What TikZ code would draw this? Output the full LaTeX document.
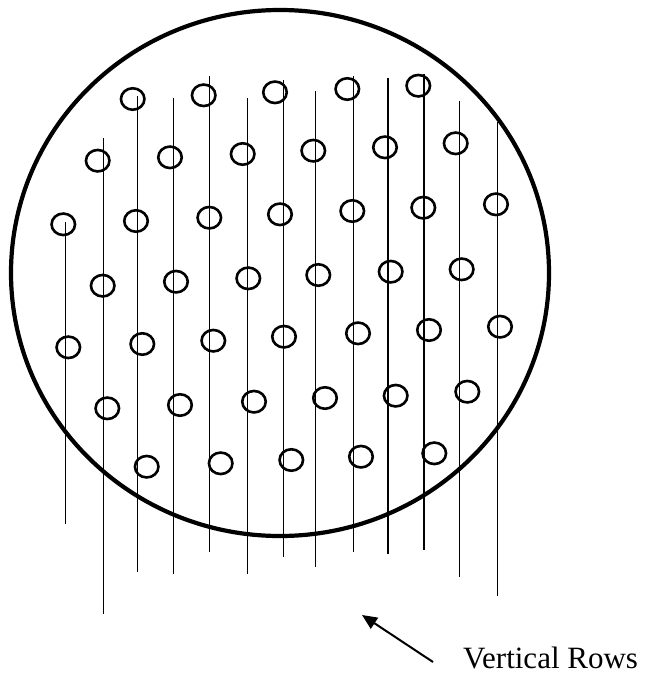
\documentclass[tikz,border=0pt]{standalone}
\usepackage{fontspec}
\setmainfont{Liberation Serif}
\usetikzlibrary{shapes.geometric,arrows.meta}

\begin{document}
\begin{tikzpicture}[x=1pt, y=-1pt,
    hole/.style={ellipse, draw, line width=2.6pt, minimum width=23.5pt, minimum height=21.5pt, inner sep=0pt},
    rim/.style={ellipse, draw, line width=4.2pt, minimum width=538pt, minimum height=526pt, inner sep=0pt},
    row/.style={line width=1.4pt},
    pointer/.style={line width=2pt, -{Triangle[length=15pt, width=13pt]}}]
    \useasboundingbox (0,0) rectangle (646,675);
    % wafer outline
    \node[rim] (rim) at (280,273) {};
    % vertical rows
    \foreach \x/\t/\b in {65.7/222/524, 103.7/138/614, 137.7/96/572, 173.7/98/574,
        209.7/76/552, 247.7/98/574, 283.7/80/557, 315.7/91/567, 353.7/76/552,
        388/78/554, 424/74/550, 459.7/101/577, 497.7/122/596}
        \draw[row] (\x,\t) -- (\x,\b);
    % holes
    \foreach \holes [count=\r] in {
        {132.7/99, 203.7/95.3, 275/92.3, 347.3/89, 418.3/85.7},
        {97.7/160.7, 170/157.3, 242.7/154, 313.3/150.7, 385/147.3, 455.7/143.3},
        {63.3/224.3, 136/221, 209.3/217.7, 280/214.3, 352.3/211, 423.3/207.7, 496/204.3},
        {102.7/285.7, 176/281.7, 248.3/278.3, 318.3/275, 390.7/271.7, 461.7/269.3},
        {68.3/347.3, 142.3/344, 213.3/340.7, 284/336.7, 358/333.3, 429/330, 500/326.7},
        {107.3/408.3, 180/405, 254/401.7, 325/398, 395.7/395.7, 467.3/391.7},
        {146.7/466.7, 220.7/463.3, 291.3/460, 361/456.7, 434.3/453.3}}
        \foreach \x/\y [count=\c] in \holes
            \node[hole] (h\r-\c) at (\x,\y) {};
    % label and arrow
    \node[anchor=base west, inner sep=0pt, font=\fontsize{31}{36}\selectfont] (lbl) at (463,668) {Vertical Rows};
    \coordinate (tail) at (433,662);
    \coordinate (tip) at (362,615);
    \draw[pointer] (tail) -- (tip);
\end{tikzpicture}
\end{document}
